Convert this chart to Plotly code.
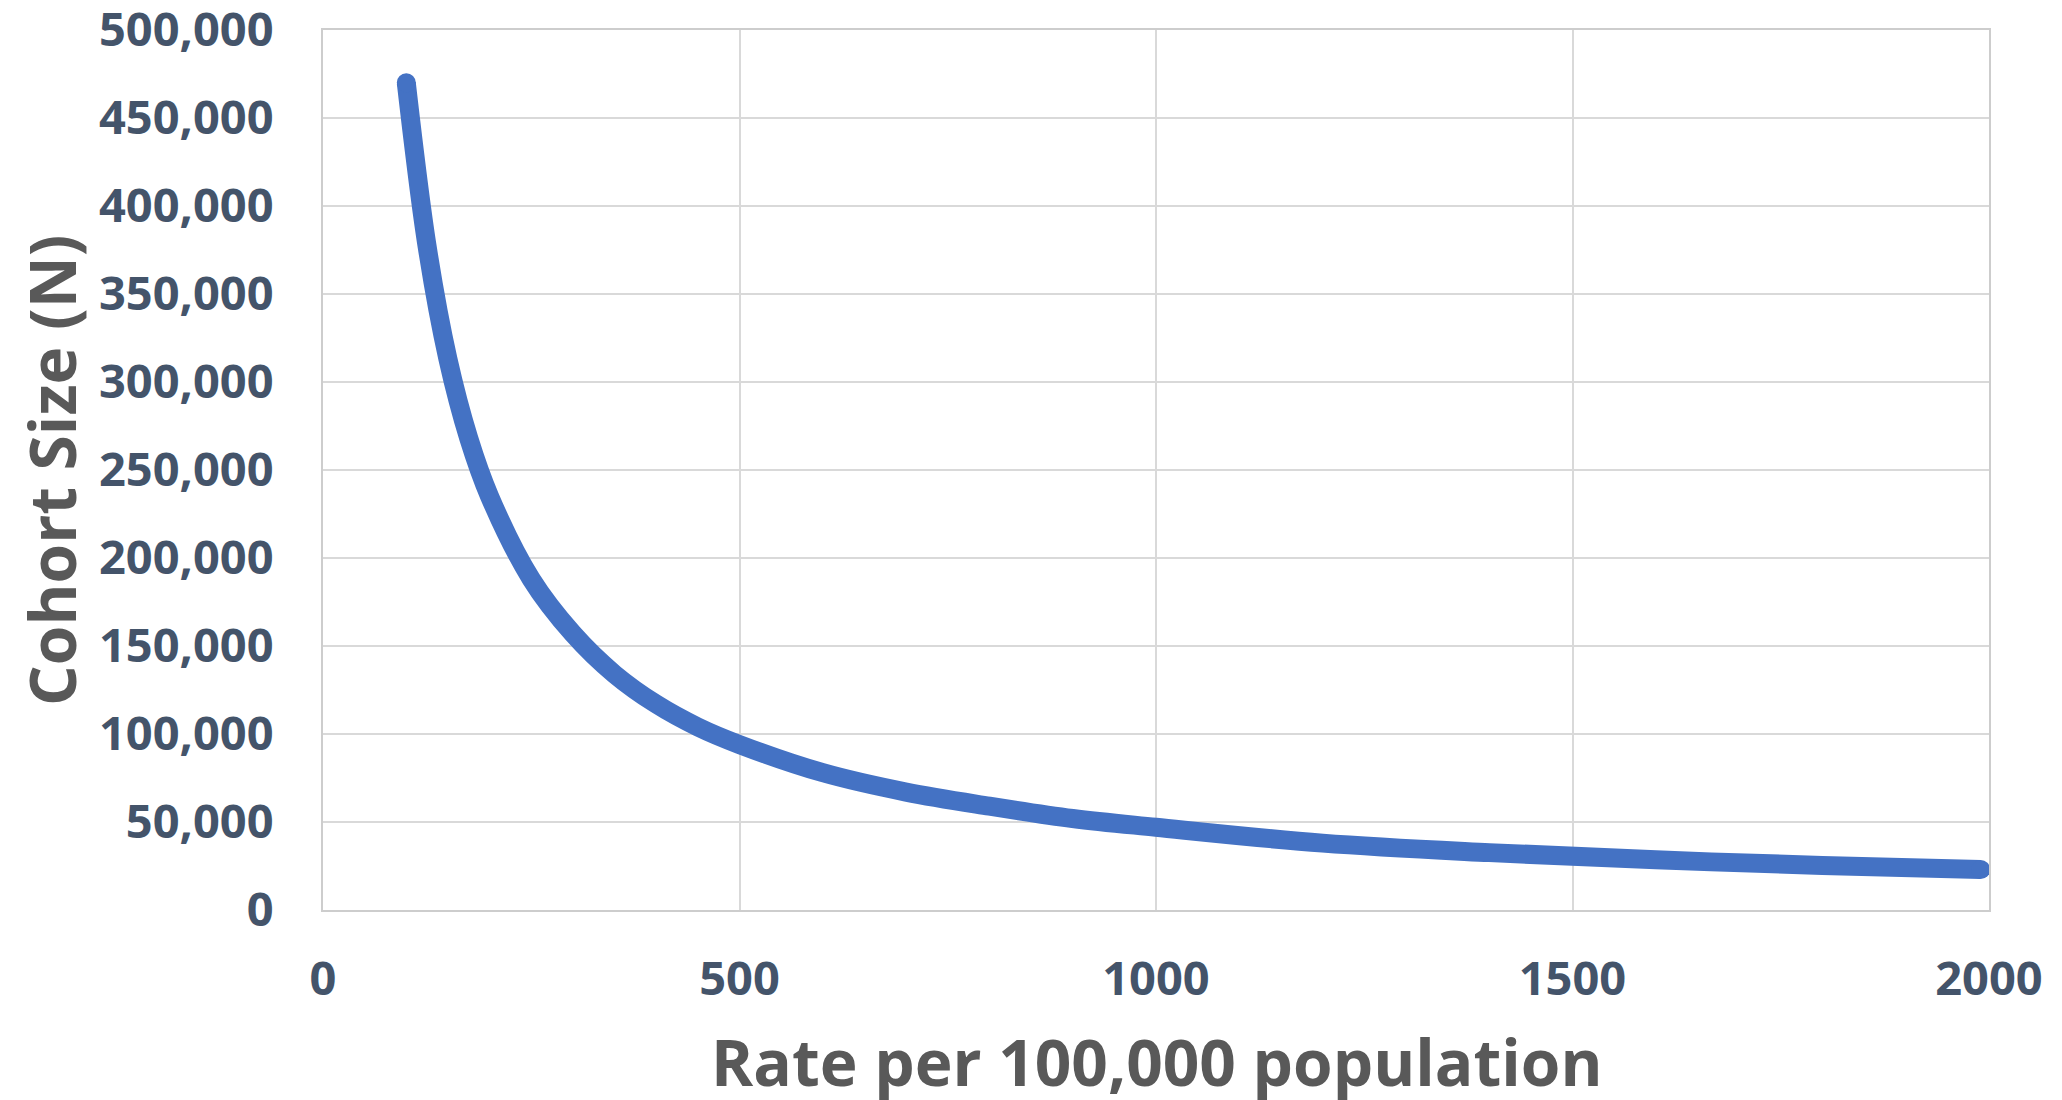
import plotly.graph_objects as go

# Values
rate = [100, 125, 150, 175, 200, 250, 300, 350, 400, 450, 500, 600, 700, 800,
        900, 1000, 1200, 1400, 1600, 1800, 1990]
cohort = [470000, 377000, 313000, 268000, 235000, 188000, 157000, 134000, 117000,
          104000, 94000, 78000, 67000, 59000, 52000, 47000, 38000, 32600, 28500,
          25300, 23000]

x_ticks = [0, 500, 1000, 1500, 2000]
y_ticks = [0, 50000, 100000, 150000, 200000, 250000, 300000, 350000, 400000, 450000, 500000]

x_title = "Rate per 100,000 population"
y_title = "Cohort Size (N)"

LINE = "#4472C4"
TICK_COLOR = "#44546A"
TITLE_COLOR = "#595959"
GRID = "#D9D9D9"
BORDER = "#CDCDCD"
FONT = "Open Sans"
LW = 19

fig = go.Figure()
fig.add_trace(go.Scatter(
    x=rate, y=cohort, mode="lines",
    line=dict(color=LINE, width=LW, shape="spline", smoothing=1.0),
    hoverinfo="x+y", showlegend=False,
))
# round end caps
fig.add_trace(go.Scatter(
    x=[rate[0], rate[-1]], y=[cohort[0], cohort[-1]], mode="markers",
    marker=dict(color=LINE, size=LW, line=dict(width=0)),
    hoverinfo="skip", showlegend=False,
))

title_font = dict(family=FONT, size=64, color=TITLE_COLOR, weight="bold")

fig.update_layout(
    width=2062, height=1100,
    margin=dict(l=323, r=73, t=30, b=190, autoexpand=False),
    paper_bgcolor="white", plot_bgcolor="white",
    font=dict(family=FONT),
    annotations=[
        dict(text=x_title, xref="paper", yref="paper", x=0.5, y=-0.1727,
             xanchor="center", yanchor="middle", showarrow=False, font=title_font),
        dict(text=y_title, xref="paper", yref="paper", x=-0.1633, y=0.5,
             xanchor="center", yanchor="middle", textangle=-90, showarrow=False,
             font=title_font),
    ],
)
fig.update_xaxes(
    range=[0, 2000], tickvals=x_ticks, tickformat="d", automargin=False,
    showgrid=True, gridcolor=GRID, gridwidth=2,
    showline=True, linecolor=BORDER, linewidth=2, mirror=True,
    zeroline=False, ticks="",
    tickfont=dict(family=FONT, size=47, color=TICK_COLOR, weight="bold"),
    ticklabelstandoff=27, ticklabeloverflow="allow",
)
fig.update_yaxes(
    range=[0, 500000], tickvals=y_ticks, tickformat=",d", automargin=False,
    showgrid=True, gridcolor=GRID, gridwidth=2,
    showline=True, linecolor=BORDER, linewidth=2, mirror=True,
    zeroline=False, ticks="",
    tickfont=dict(family=FONT, size=47, color=TICK_COLOR, weight="bold"),
    ticklabelstandoff=38, ticklabeloverflow="allow",
)

fig.write_html("out.html", config={"displayModeBar": False})

# remove default page margin so the figure sits at the window's corner
with open("out.html", "r", encoding="utf-8") as f:
    html = f.read()
html = html.replace("<body>", '<body style="margin:0;padding:0;">', 1)
with open("out.html", "w", encoding="utf-8") as f:
    f.write(html)
